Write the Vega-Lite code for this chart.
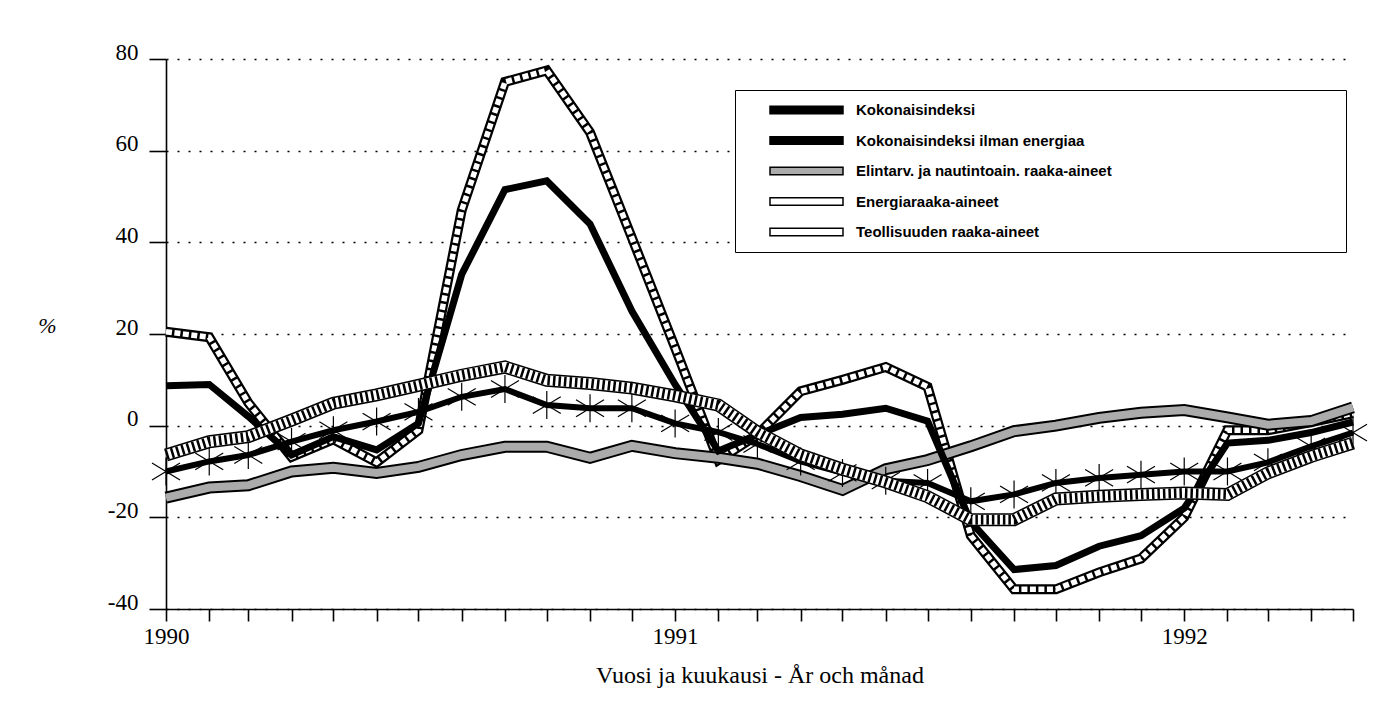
{
  "$schema": "https://vega.github.io/schema/vega-lite/v6.json",
  "width": 1187,
  "height": 550,
  "autosize": "none",
  "padding": {"left": 166, "top": 59, "right": 21, "bottom": 102},
  "background": "white",
  "config": {
    "view": {"stroke": null},
    "axis": {"domainColor": "black", "tickColor": "black", "labelColor": "black", "titleColor": "black", "domainWidth": 1.6, "tickWidth": 1.6}
  },
  "data": {"values": [
    {"d":"1990-01-01T00:00","s":"Kokonaisindeksi","v":8.7},
    {"d":"1990-02-01T00:00","s":"Kokonaisindeksi","v":9},
    {"d":"1990-03-01T00:00","s":"Kokonaisindeksi","v":2},
    {"d":"1990-04-01T00:00","s":"Kokonaisindeksi","v":-6.4},
    {"d":"1990-05-01T00:00","s":"Kokonaisindeksi","v":-2.4},
    {"d":"1990-06-01T00:00","s":"Kokonaisindeksi","v":-5.3},
    {"d":"1990-07-01T00:00","s":"Kokonaisindeksi","v":0.5},
    {"d":"1990-08-01T00:00","s":"Kokonaisindeksi","v":33},
    {"d":"1990-09-01T00:00","s":"Kokonaisindeksi","v":51.5},
    {"d":"1990-10-01T00:00","s":"Kokonaisindeksi","v":53.4},
    {"d":"1990-11-01T00:00","s":"Kokonaisindeksi","v":44},
    {"d":"1990-12-01T00:00","s":"Kokonaisindeksi","v":25},
    {"d":"1991-01-01T00:00","s":"Kokonaisindeksi","v":9},
    {"d":"1991-02-01T00:00","s":"Kokonaisindeksi","v":-5.5},
    {"d":"1991-03-01T00:00","s":"Kokonaisindeksi","v":-2},
    {"d":"1991-04-01T00:00","s":"Kokonaisindeksi","v":1.8},
    {"d":"1991-05-01T00:00","s":"Kokonaisindeksi","v":2.5},
    {"d":"1991-06-01T00:00","s":"Kokonaisindeksi","v":3.8},
    {"d":"1991-07-01T00:00","s":"Kokonaisindeksi","v":1},
    {"d":"1991-08-01T00:00","s":"Kokonaisindeksi","v":-21},
    {"d":"1991-09-01T00:00","s":"Kokonaisindeksi","v":-31.4},
    {"d":"1991-10-01T00:00","s":"Kokonaisindeksi","v":-30.5},
    {"d":"1991-11-01T00:00","s":"Kokonaisindeksi","v":-26.3},
    {"d":"1991-12-01T00:00","s":"Kokonaisindeksi","v":-24},
    {"d":"1992-01-01T00:00","s":"Kokonaisindeksi","v":-18},
    {"d":"1992-02-01T00:00","s":"Kokonaisindeksi","v":-3.8},
    {"d":"1992-03-01T00:00","s":"Kokonaisindeksi","v":-3.2},
    {"d":"1992-04-01T00:00","s":"Kokonaisindeksi","v":-1.5},
    {"d":"1992-05-01T00:00","s":"Kokonaisindeksi","v":0.8},
    {"d":"1990-01-01T00:00","s":"Kokonaisindeksi ilman energiaa","v":-10},
    {"d":"1990-02-01T00:00","s":"Kokonaisindeksi ilman energiaa","v":-7.8},
    {"d":"1990-03-01T00:00","s":"Kokonaisindeksi ilman energiaa","v":-6.4},
    {"d":"1990-04-01T00:00","s":"Kokonaisindeksi ilman energiaa","v":-3.5},
    {"d":"1990-05-01T00:00","s":"Kokonaisindeksi ilman energiaa","v":-1},
    {"d":"1990-06-01T00:00","s":"Kokonaisindeksi ilman energiaa","v":0.9},
    {"d":"1990-07-01T00:00","s":"Kokonaisindeksi ilman energiaa","v":3},
    {"d":"1990-08-01T00:00","s":"Kokonaisindeksi ilman energiaa","v":6.3},
    {"d":"1990-09-01T00:00","s":"Kokonaisindeksi ilman energiaa","v":8},
    {"d":"1990-10-01T00:00","s":"Kokonaisindeksi ilman energiaa","v":4.5},
    {"d":"1990-11-01T00:00","s":"Kokonaisindeksi ilman energiaa","v":3.8},
    {"d":"1990-12-01T00:00","s":"Kokonaisindeksi ilman energiaa","v":3.8},
    {"d":"1991-01-01T00:00","s":"Kokonaisindeksi ilman energiaa","v":0.5},
    {"d":"1991-02-01T00:00","s":"Kokonaisindeksi ilman energiaa","v":-1.4},
    {"d":"1991-03-01T00:00","s":"Kokonaisindeksi ilman energiaa","v":-4},
    {"d":"1991-04-01T00:00","s":"Kokonaisindeksi ilman energiaa","v":-7.8},
    {"d":"1991-05-01T00:00","s":"Kokonaisindeksi ilman energiaa","v":-10.3},
    {"d":"1991-06-01T00:00","s":"Kokonaisindeksi ilman energiaa","v":-12},
    {"d":"1991-07-01T00:00","s":"Kokonaisindeksi ilman energiaa","v":-12.5},
    {"d":"1991-08-01T00:00","s":"Kokonaisindeksi ilman energiaa","v":-16.5},
    {"d":"1991-09-01T00:00","s":"Kokonaisindeksi ilman energiaa","v":-15},
    {"d":"1991-10-01T00:00","s":"Kokonaisindeksi ilman energiaa","v":-12.5},
    {"d":"1991-11-01T00:00","s":"Kokonaisindeksi ilman energiaa","v":-11.4},
    {"d":"1991-12-01T00:00","s":"Kokonaisindeksi ilman energiaa","v":-10.7},
    {"d":"1992-01-01T00:00","s":"Kokonaisindeksi ilman energiaa","v":-10},
    {"d":"1992-02-01T00:00","s":"Kokonaisindeksi ilman energiaa","v":-10},
    {"d":"1992-03-01T00:00","s":"Kokonaisindeksi ilman energiaa","v":-8},
    {"d":"1992-04-01T00:00","s":"Kokonaisindeksi ilman energiaa","v":-4.5},
    {"d":"1992-05-01T00:00","s":"Kokonaisindeksi ilman energiaa","v":-1.5},
    {"d":"1990-01-01T00:00","s":"Elintarv. ja nautintoain. raaka-aineet","v":-15.7},
    {"d":"1990-02-01T00:00","s":"Elintarv. ja nautintoain. raaka-aineet","v":-13.5},
    {"d":"1990-03-01T00:00","s":"Elintarv. ja nautintoain. raaka-aineet","v":-13},
    {"d":"1990-04-01T00:00","s":"Elintarv. ja nautintoain. raaka-aineet","v":-10},
    {"d":"1990-05-01T00:00","s":"Elintarv. ja nautintoain. raaka-aineet","v":-9.2},
    {"d":"1990-06-01T00:00","s":"Elintarv. ja nautintoain. raaka-aineet","v":-10.3},
    {"d":"1990-07-01T00:00","s":"Elintarv. ja nautintoain. raaka-aineet","v":-9},
    {"d":"1990-08-01T00:00","s":"Elintarv. ja nautintoain. raaka-aineet","v":-6.4},
    {"d":"1990-09-01T00:00","s":"Elintarv. ja nautintoain. raaka-aineet","v":-4.6},
    {"d":"1990-10-01T00:00","s":"Elintarv. ja nautintoain. raaka-aineet","v":-4.6},
    {"d":"1990-11-01T00:00","s":"Elintarv. ja nautintoain. raaka-aineet","v":-7},
    {"d":"1990-12-01T00:00","s":"Elintarv. ja nautintoain. raaka-aineet","v":-4.4},
    {"d":"1991-01-01T00:00","s":"Elintarv. ja nautintoain. raaka-aineet","v":-6},
    {"d":"1991-02-01T00:00","s":"Elintarv. ja nautintoain. raaka-aineet","v":-7},
    {"d":"1991-03-01T00:00","s":"Elintarv. ja nautintoain. raaka-aineet","v":-8.3},
    {"d":"1991-04-01T00:00","s":"Elintarv. ja nautintoain. raaka-aineet","v":-11},
    {"d":"1991-05-01T00:00","s":"Elintarv. ja nautintoain. raaka-aineet","v":-14},
    {"d":"1991-06-01T00:00","s":"Elintarv. ja nautintoain. raaka-aineet","v":-9.5},
    {"d":"1991-07-01T00:00","s":"Elintarv. ja nautintoain. raaka-aineet","v":-7.5},
    {"d":"1991-08-01T00:00","s":"Elintarv. ja nautintoain. raaka-aineet","v":-4.5},
    {"d":"1991-09-01T00:00","s":"Elintarv. ja nautintoain. raaka-aineet","v":-1.2},
    {"d":"1991-10-01T00:00","s":"Elintarv. ja nautintoain. raaka-aineet","v":0},
    {"d":"1991-11-01T00:00","s":"Elintarv. ja nautintoain. raaka-aineet","v":1.7},
    {"d":"1991-12-01T00:00","s":"Elintarv. ja nautintoain. raaka-aineet","v":2.8},
    {"d":"1992-01-01T00:00","s":"Elintarv. ja nautintoain. raaka-aineet","v":3.4},
    {"d":"1992-02-01T00:00","s":"Elintarv. ja nautintoain. raaka-aineet","v":1.8},
    {"d":"1992-03-01T00:00","s":"Elintarv. ja nautintoain. raaka-aineet","v":0.2},
    {"d":"1992-04-01T00:00","s":"Elintarv. ja nautintoain. raaka-aineet","v":1},
    {"d":"1992-05-01T00:00","s":"Elintarv. ja nautintoain. raaka-aineet","v":4},
    {"d":"1990-01-01T00:00","s":"Energiaraaka-aineet","v":20.5},
    {"d":"1990-02-01T00:00","s":"Energiaraaka-aineet","v":19.3},
    {"d":"1990-03-01T00:00","s":"Energiaraaka-aineet","v":5},
    {"d":"1990-04-01T00:00","s":"Energiaraaka-aineet","v":-6.8},
    {"d":"1990-05-01T00:00","s":"Energiaraaka-aineet","v":-3},
    {"d":"1990-06-01T00:00","s":"Energiaraaka-aineet","v":-8},
    {"d":"1990-07-01T00:00","s":"Energiaraaka-aineet","v":-1},
    {"d":"1990-08-01T00:00","s":"Energiaraaka-aineet","v":47},
    {"d":"1990-09-01T00:00","s":"Energiaraaka-aineet","v":75},
    {"d":"1990-10-01T00:00","s":"Energiaraaka-aineet","v":77.5},
    {"d":"1990-11-01T00:00","s":"Energiaraaka-aineet","v":64},
    {"d":"1990-12-01T00:00","s":"Energiaraaka-aineet","v":41},
    {"d":"1991-01-01T00:00","s":"Energiaraaka-aineet","v":17},
    {"d":"1991-02-01T00:00","s":"Energiaraaka-aineet","v":-7.5},
    {"d":"1991-03-01T00:00","s":"Energiaraaka-aineet","v":-2},
    {"d":"1991-04-01T00:00","s":"Energiaraaka-aineet","v":7.5},
    {"d":"1991-05-01T00:00","s":"Energiaraaka-aineet","v":10},
    {"d":"1991-06-01T00:00","s":"Energiaraaka-aineet","v":12.8},
    {"d":"1991-07-01T00:00","s":"Energiaraaka-aineet","v":8.5},
    {"d":"1991-08-01T00:00","s":"Energiaraaka-aineet","v":-24},
    {"d":"1991-09-01T00:00","s":"Energiaraaka-aineet","v":-35.7},
    {"d":"1991-10-01T00:00","s":"Energiaraaka-aineet","v":-35.7},
    {"d":"1991-11-01T00:00","s":"Energiaraaka-aineet","v":-32},
    {"d":"1991-12-01T00:00","s":"Energiaraaka-aineet","v":-29},
    {"d":"1992-01-01T00:00","s":"Energiaraaka-aineet","v":-20},
    {"d":"1992-02-01T00:00","s":"Energiaraaka-aineet","v":-1},
    {"d":"1992-03-01T00:00","s":"Energiaraaka-aineet","v":-1},
    {"d":"1992-04-01T00:00","s":"Energiaraaka-aineet","v":0.8},
    {"d":"1992-05-01T00:00","s":"Energiaraaka-aineet","v":2.7},
    {"d":"1990-01-01T00:00","s":"Teollisuuden raaka-aineet","v":-6.4},
    {"d":"1990-02-01T00:00","s":"Teollisuuden raaka-aineet","v":-3.5},
    {"d":"1990-03-01T00:00","s":"Teollisuuden raaka-aineet","v":-2.4},
    {"d":"1990-04-01T00:00","s":"Teollisuuden raaka-aineet","v":1.2},
    {"d":"1990-05-01T00:00","s":"Teollisuuden raaka-aineet","v":4.9},
    {"d":"1990-06-01T00:00","s":"Teollisuuden raaka-aineet","v":6.7},
    {"d":"1990-07-01T00:00","s":"Teollisuuden raaka-aineet","v":8.8},
    {"d":"1990-08-01T00:00","s":"Teollisuuden raaka-aineet","v":11},
    {"d":"1990-09-01T00:00","s":"Teollisuuden raaka-aineet","v":12.8},
    {"d":"1990-10-01T00:00","s":"Teollisuuden raaka-aineet","v":9.9},
    {"d":"1990-11-01T00:00","s":"Teollisuuden raaka-aineet","v":9.2},
    {"d":"1990-12-01T00:00","s":"Teollisuuden raaka-aineet","v":8.2},
    {"d":"1991-01-01T00:00","s":"Teollisuuden raaka-aineet","v":6.5},
    {"d":"1991-02-01T00:00","s":"Teollisuuden raaka-aineet","v":4.5},
    {"d":"1991-03-01T00:00","s":"Teollisuuden raaka-aineet","v":-1.4},
    {"d":"1991-04-01T00:00","s":"Teollisuuden raaka-aineet","v":-6.4},
    {"d":"1991-05-01T00:00","s":"Teollisuuden raaka-aineet","v":-9.5},
    {"d":"1991-06-01T00:00","s":"Teollisuuden raaka-aineet","v":-12.3},
    {"d":"1991-07-01T00:00","s":"Teollisuuden raaka-aineet","v":-15.5},
    {"d":"1991-08-01T00:00","s":"Teollisuuden raaka-aineet","v":-20.5},
    {"d":"1991-09-01T00:00","s":"Teollisuuden raaka-aineet","v":-20.5},
    {"d":"1991-10-01T00:00","s":"Teollisuuden raaka-aineet","v":-16},
    {"d":"1991-11-01T00:00","s":"Teollisuuden raaka-aineet","v":-15.4},
    {"d":"1991-12-01T00:00","s":"Teollisuuden raaka-aineet","v":-15},
    {"d":"1992-01-01T00:00","s":"Teollisuuden raaka-aineet","v":-14.7},
    {"d":"1992-02-01T00:00","s":"Teollisuuden raaka-aineet","v":-15},
    {"d":"1992-03-01T00:00","s":"Teollisuuden raaka-aineet","v":-10.3},
    {"d":"1992-04-01T00:00","s":"Teollisuuden raaka-aineet","v":-6.7},
    {"d":"1992-05-01T00:00","s":"Teollisuuden raaka-aineet","v":-3.8}
  ]},
  "encoding": {
    "x": {
      "field": "d", "type": "temporal",
      "scale": {"domain": [{"year": 1990, "month": 1, "date": 1}, {"year": 1992, "month": 5, "date": 1}]},
      "axis": {
        "title": "Vuosi ja kuukausi - År och månad",
        "tickCount": {"interval": "month", "step": 1},
        "labelExpr": "month(datum.value) == 0 ? timeFormat(datum.value, '%Y') : ''",
        "tickSize": 12,
        "grid": false,
        "labelFont": "Liberation Serif", "labelFontSize": 23, "labelPadding": 4,
        "labelFlush": false, "labelOverlap": false,
        "titleFont": "Liberation Serif", "titleFontSize": 24, "titleFontWeight": "normal",
        "titleY": 73, "titleBaseline": "alphabetic"
      }
    },
    "y": {
      "field": "v", "type": "quantitative",
      "scale": {"domain": [-40, 80], "nice": false, "zero": false},
      "axis": {
        "title": "%",
        "values": [-40, -20, 0, 20, 40, 60, 80],
        "labelExpr": "'' + datum.value",
        "tickSize": 17, "labelPadding": 11,
        "labelFont": "Liberation Serif", "labelFontSize": 23, "labelBaseline": "alphabetic",
        "grid": true, "gridDash": [2, 9], "gridColor": "black", "gridWidth": 1.6, "gridOpacity": 1,
        "titleFont": "Liberation Serif", "titleFontSize": 22, "titleFontStyle": "italic", "titleFontWeight": "normal",
        "titleAngle": 0, "titleX": -119, "titleY": 266, "titleAlign": "center", "titleBaseline": "middle"
      }
    }
  },
  "layer": [
    {
      "transform": [{"filter": "datum.s == 'Energiaraaka-aineet'"}],
      "mark": {"type": "line", "color": "black", "strokeWidth": 10, "strokeJoin": "miter", "strokeMiterLimit": 4}
    },
    {
      "transform": [{"filter": "datum.s == 'Energiaraaka-aineet'"}],
      "mark": {"type": "line", "color": "white", "strokeWidth": 5.5, "strokeDash": [6, 2.5], "strokeJoin": "miter", "strokeMiterLimit": 4}
    },
    {
      "transform": [{"filter": "datum.s == 'Elintarv. ja nautintoain. raaka-aineet'"}],
      "mark": {"type": "line", "color": "black", "strokeWidth": 12, "strokeJoin": "miter", "strokeMiterLimit": 4}
    },
    {
      "transform": [{"filter": "datum.s == 'Elintarv. ja nautintoain. raaka-aineet'"}],
      "mark": {"type": "line", "color": "#ababab", "strokeWidth": 8, "strokeJoin": "miter", "strokeMiterLimit": 4}
    },
    {
      "transform": [{"filter": "datum.s == 'Kokonaisindeksi'"}],
      "mark": {"type": "line", "color": "black", "strokeWidth": 7, "strokeJoin": "miter", "strokeMiterLimit": 4}
    },
    {
      "transform": [{"filter": "datum.s == 'Kokonaisindeksi ilman energiaa'"}],
      "mark": {"type": "line", "color": "black", "strokeWidth": 6, "strokeJoin": "miter", "strokeMiterLimit": 4}
    },
    {
      "transform": [{"filter": "datum.s == 'Kokonaisindeksi ilman energiaa'"}],
      "mark": {"type": "point", "shape": "M-1,-0.6L1,0.6M-1,0.6L1,-0.6M0,-1L0,1", "filled": true, "stroke": "black", "strokeWidth": 1.2, "size": 784, "opacity": 1},
      "encoding": {
        "color": {
          "field": "s", "type": "nominal",
          "scale": {
            "domain": ["Kokonaisindeksi", "Kokonaisindeksi ilman energiaa", "Elintarv. ja nautintoain. raaka-aineet", "Energiaraaka-aineet", "Teollisuuden raaka-aineet"],
            "range": ["black", "black", "#ababab", "white", "white"]
          },
          "legend": {
            "title": "\u00a0",
            "titleOrient": "right",
            "titlePadding": 228,
            "titleFontSize": 10,
            "orient": "none",
            "legendX": 569,
            "legendY": 31,
            "padding": 6,
            "fillColor": "white",
            "strokeColor": "black",
            "symbolType": "M-1,-0.1H1V0.1H-1Z",
            "symbolSize": 5329,
            "symbolStrokeWidth": 1.5,
            "symbolStrokeColor": "black",
            "symbolOpacity": 1,
            "clipHeight": 28,
            "rowPadding": 2.5,
            "symbolOffset": 28,
            "labelOffset": 12,
            "labelFont": "Liberation Sans",
            "labelFontSize": 15,
            "labelFontWeight": "bold",
            "labelColor": "black",
            "labelLimit": 800,
            "encoding": {
              "symbols": {
                "stroke": {"value": "black"},
                "strokeWidth": {"value": 1.5}
              }
            }
          }
        }
      }
    },
    {
      "transform": [{"filter": "datum.s == 'Teollisuuden raaka-aineet'"}],
      "mark": {"type": "line", "color": "black", "strokeWidth": 13, "strokeJoin": "miter", "strokeMiterLimit": 4}
    },
    {
      "transform": [{"filter": "datum.s == 'Teollisuuden raaka-aineet'"}],
      "mark": {"type": "line", "color": "white", "strokeWidth": 10, "strokeJoin": "miter", "strokeMiterLimit": 4}
    },
    {
      "transform": [{"filter": "datum.s == 'Teollisuuden raaka-aineet'"}],
      "mark": {"type": "line", "color": "black", "strokeWidth": 10, "strokeDash": [2.5, 3], "strokeJoin": "miter", "strokeMiterLimit": 4}
    }
  ]
}
